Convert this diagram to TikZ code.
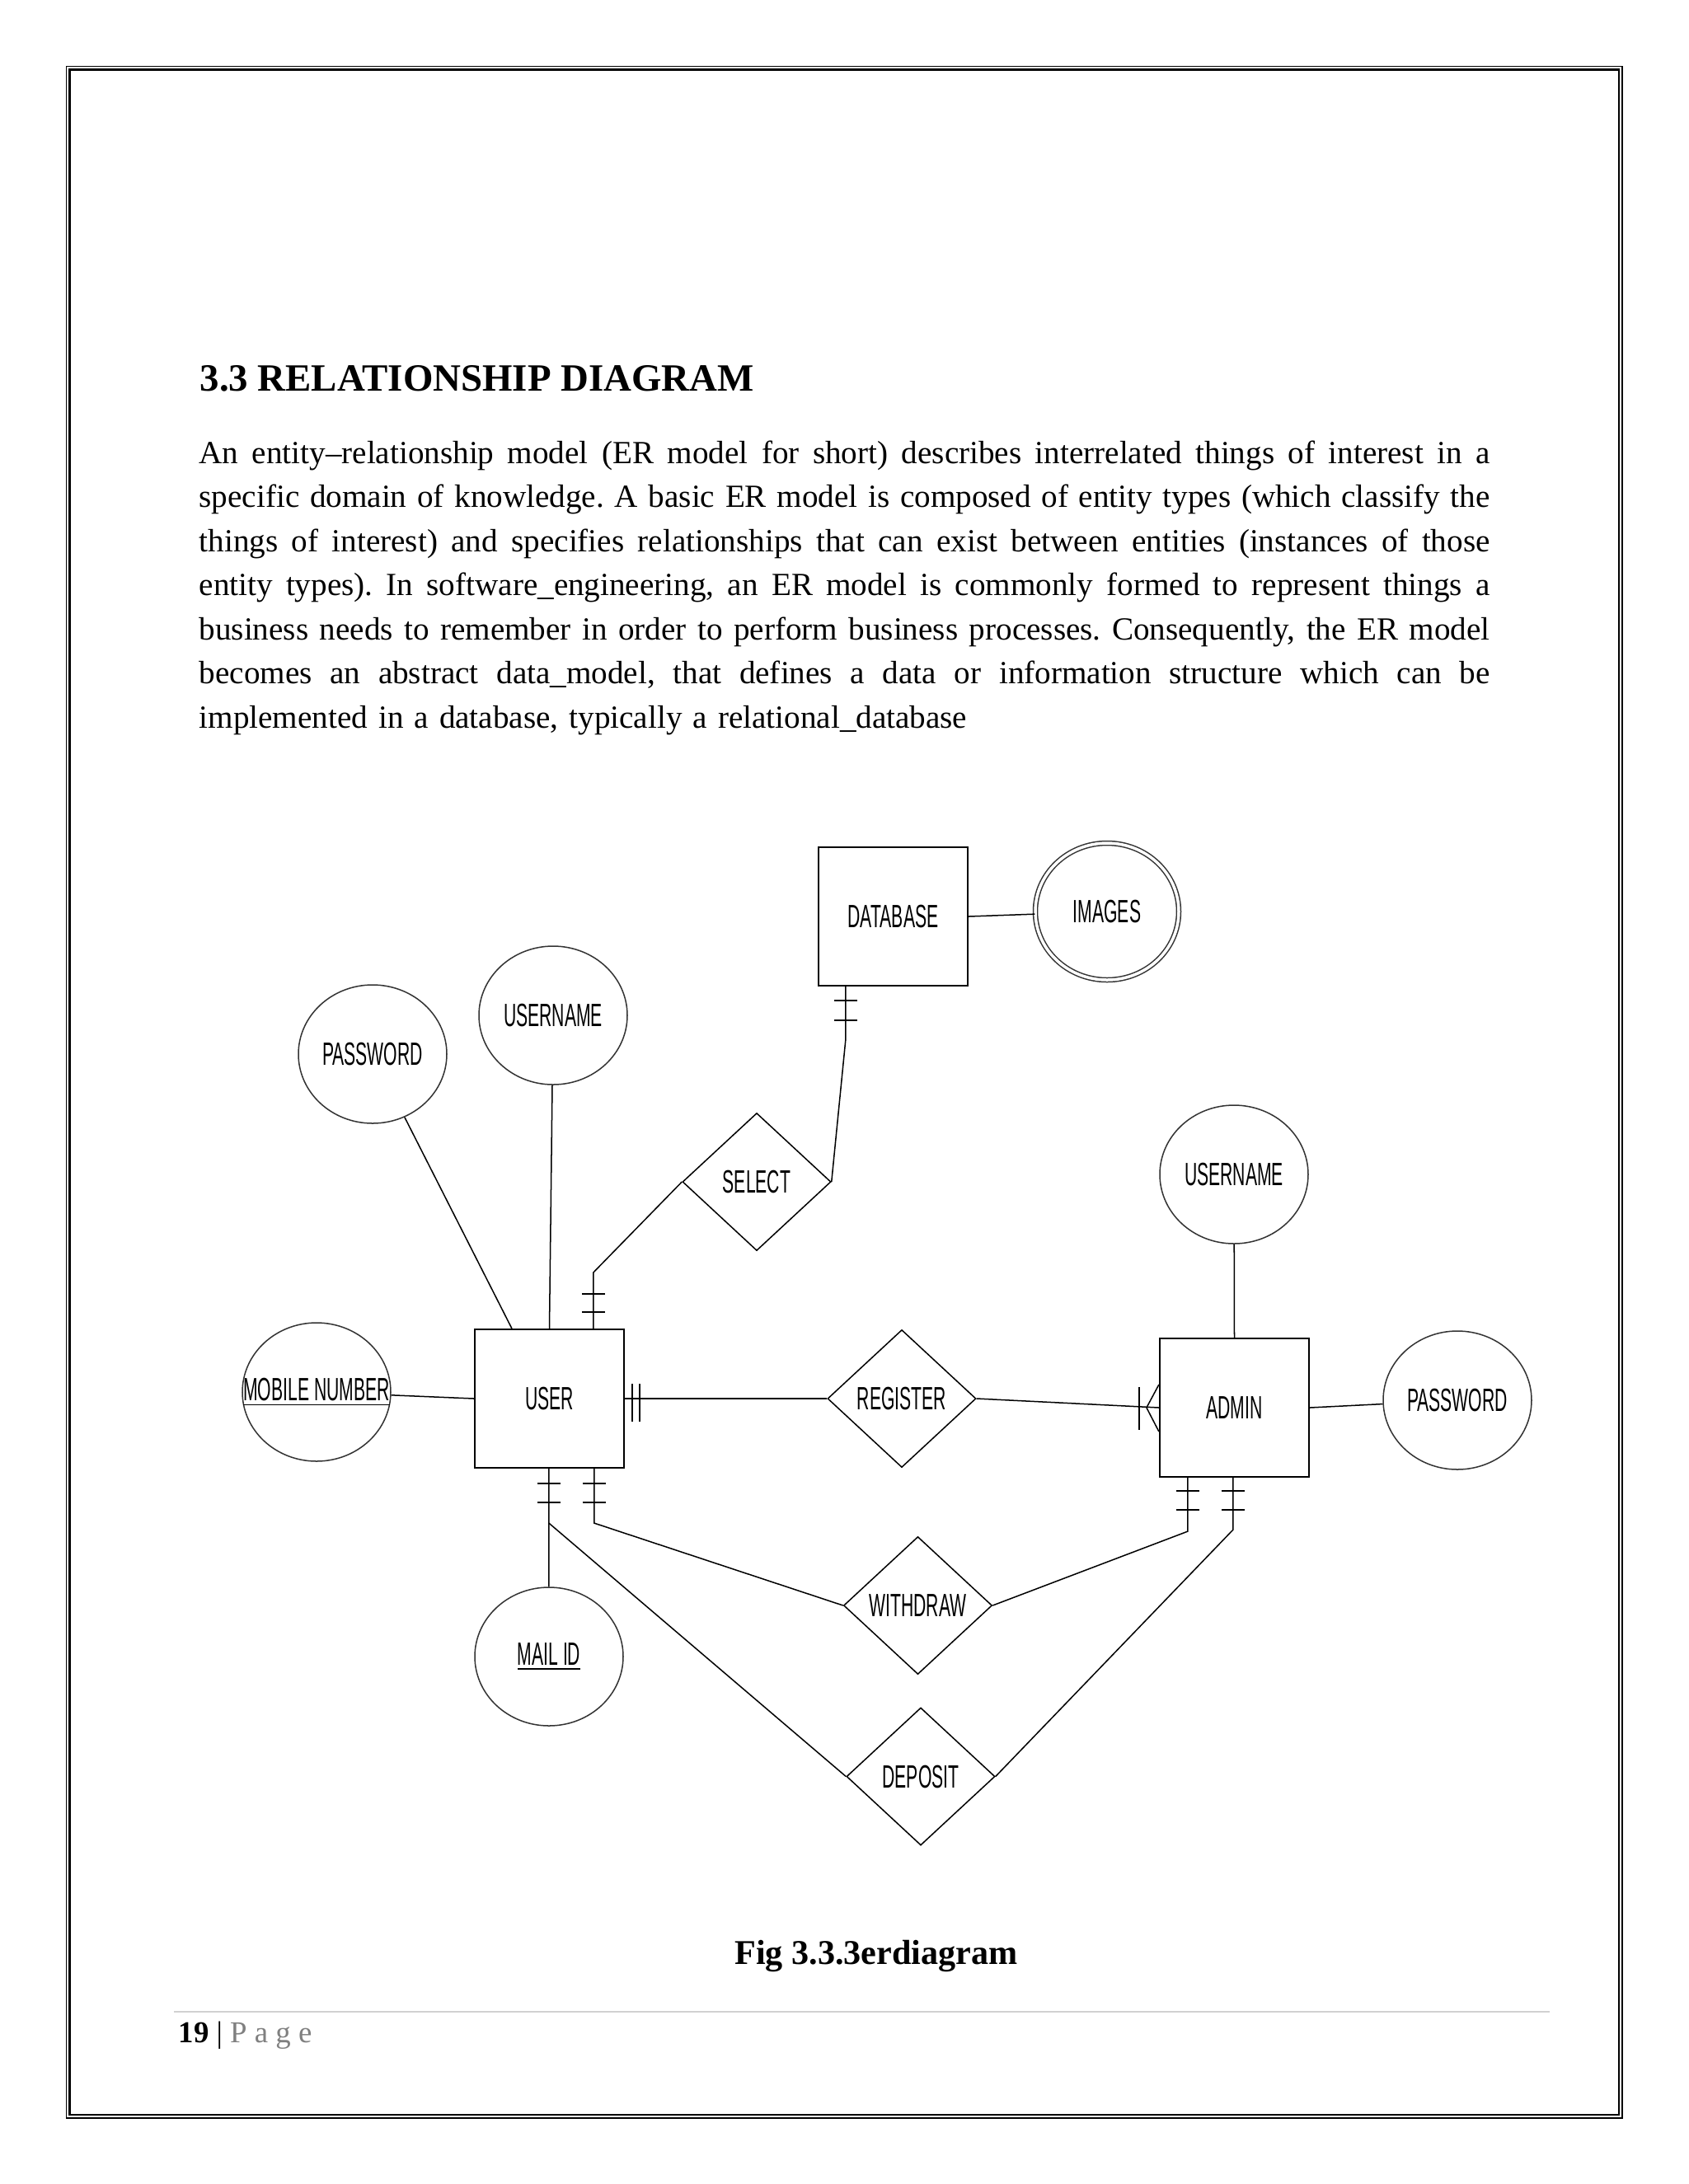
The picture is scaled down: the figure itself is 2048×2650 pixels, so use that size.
\documentclass[tikz,border=0pt]{standalone}
\usepackage{fontspec}
\setmainfont{Liberation Serif}
\newfontfamily\erfont[FakeStretch=0.54]{Liberation Sans}
\usetikzlibrary{shapes.geometric,calc}
\def\PX{0.29887pt}
\ExplSyntaxOn
\tl_new:N \l_erpara_line_tl
\NewDocumentCommand\paraline{m}
 {
  \tl_set:Nn \l_erpara_line_tl {#1}
  \tl_replace_all:Nnn \l_erpara_line_tl {~} {\hskip 0.25em plus 1fil minus 0.08em\relax}
  \mode_leave_vertical:
  \hbox_to_wd:nn {468pt} {\l_erpara_line_tl}
 }
\ExplSyntaxOff
\newcommand\parafont{\fontsize{11.7}{16}\selectfont}
\begin{document}
\begin{tikzpicture}[x=0.29887pt,y=-0.29887pt,
  erlab/.style={font=\erfont\fontsize{11.7}{14}\selectfont},
  entity/.style={erlab,draw,rectangle,line width=0.65pt,minimum width=181*\PX,minimum height=168*\PX,inner sep=0pt},
  attr/.style={erlab,draw=black!80,ellipse,line width=0.45pt,minimum width=180*\PX,minimum height=168*\PX,inner sep=0pt},
  rel/.style={erlab,draw,diamond,line width=0.45pt,minimum width=180*\PX,minimum height=167*\PX,inner sep=0pt},
  conn/.style={line width=0.45pt},
  tickline/.style={line width=0.6pt}
]
\fill[white] (0,0) rectangle (2048,2650);
\useasboundingbox (0,0) rectangle (2048,2650);
% page frame
\draw[line width=0.45pt] (80.5,80.5) rectangle (1968,2570);
\draw[line width=0.75pt] (84.5,84.5) rectangle (1964,2566);

% heading and paragraph
\node[anchor=base west,inner sep=0pt,font=\bfseries\fontsize{14}{16}\selectfont] (title) at (242,474) {3.3 RELATIONSHIP DIAGRAM};
\node[anchor=base west,inner sep=0pt,text width=468pt,align=left,font=\parafont] (para) at (241,562) {%
\paraline{An entity–relationship model (ER model for short) describes interrelated things of interest in a}\\
\paraline{specific domain of knowledge. A basic ER model is composed of entity types (which classify the}\\
\paraline{things of interest) and specifies relationships that can exist between entities (instances of those}\\
\paraline{entity types). In software\_engineering, an ER model is commonly formed to represent things a}\\
\paraline{business needs to remember in order to perform business processes. Consequently, the ER model}\\
\paraline{becomes an abstract data\_model, that defines a data or information structure which can be}\\
implemented in a database, typically a relational\_database};

% entities
\node[entity] (db) at (1083.5,1112) {DATABASE};
\node[entity] (user) at (666.5,1697) {USER};
\node[entity] (adm) at (1497.5,1708) {ADMIN};

% attributes
\node[attr,double,double distance=3.5*\PX,minimum width=174*\PX,minimum height=166*\PX] (img) at (1343,1106) {IMAGES};
\node[attr] (pw1) at (452,1279) {PASSWORD};
\node[attr] (un1) at (671,1232) {USERNAME};
\node[attr,label={center:\erfont\fontsize{11.7}{14}\selectfont\underline{MOBILE NUMBER}}] (mob) at (384,1689) {};
\node[attr] (mail) at (666,2010) {\underline{MAIL ID}};
\node[attr] (un2) at (1497,1425) {USERNAME};
\node[attr] (pw2) at (1768,1699) {PASSWORD};

% relationships
\node[rel] (sel) at (918,1434) {SELECT};
\node[rel] (reg) at (1094,1697) {REGISTER};
\node[rel] (wd) at (1113.5,1948) {WITHDRAW};
\node[rel] (dep) at (1117,2155.5) {DEPOSIT};

% attribute links
\draw[conn] (db.east) -- (img);
\coordinate (upw) at ($(user.north west)+(46,0)$);
\draw[conn] (pw1) -- (upw);
\draw[conn] (un1) -- (user.north);
\draw[conn] (mob) -- (user.west);
\draw[conn] (un2) -- (adm.north);
\draw[conn] (adm.east) -- (pw2);

% DATABASE -- SELECT
\coordinate (dbs) at ($(db.south west)+(34,0)$);
\coordinate (dbk) at ($(dbs)+(0,64)$);
\draw[conn] (dbs) -- (dbk) -- (sel.east);
\draw[tickline] ($(dbs)+(-14,17)$) -- ($(dbs)+(14,17)$);
\draw[tickline] ($(dbs)+(-14,41)$) -- ($(dbs)+(14,41)$);

% USER -- SELECT
\coordinate (us) at ($(user.north west)+(145,0)$);
\coordinate (usk) at ($(us)+(0,-68)$);
\draw[conn] (us) -- (usk) -- (sel.west);
\draw[tickline] ($(us)+(-14,-42)$) -- ($(us)+(14,-42)$);
\draw[tickline] ($(us)+(-14,-20)$) -- ($(us)+(14,-20)$);

% USER -- REGISTER -- ADMIN
\draw[conn] (user.east) -- (reg.west);
\draw[tickline] ($(user.east)+(9,-18)$) -- ($(user.east)+(9,28)$);
\draw[tickline] ($(user.east)+(18,-18)$) -- ($(user.east)+(18,28)$);
\draw[conn] (reg.east) -- (adm.west);
\draw[conn] ($(adm.west)+(-15,0)$) -- ($(adm.west)+(0,-28)$);
\draw[conn] ($(adm.west)+(-15,0)$) -- ($(adm.west)+(0,29)$);
\draw[tickline] ($(adm.west)+(-24,-25)$) -- ($(adm.west)+(-24,27)$);

% USER bottom links
\coordinate (ub1) at ($(user.south west)+(91,0)$);
\coordinate (ub1k) at ($(ub1)+(0,66)$);
\draw[conn] (ub1) -- (ub1k) -- (mail);
\draw[conn] (ub1k) -- (dep.west);
\draw[tickline] ($(ub1)+(-14,18)$) -- ($(ub1)+(14,18)$);
\draw[tickline] ($(ub1)+(-14,41)$) -- ($(ub1)+(14,41)$);
\coordinate (ub2) at ($(user.south west)+(146,0)$);
\coordinate (ub2k) at ($(ub2)+(0,66)$);
\draw[conn] (ub2) -- (ub2k) -- (wd.west);
\draw[tickline] ($(ub2)+(-14,18)$) -- ($(ub2)+(14,18)$);
\draw[tickline] ($(ub2)+(-14,41)$) -- ($(ub2)+(14,41)$);

% ADMIN bottom links
\coordinate (ab1) at ($(adm.south west)+(35,0)$);
\coordinate (ab1k) at ($(ab1)+(0,65)$);
\draw[conn] (ab1) -- (ab1k) -- (wd.east);
\draw[tickline] ($(ab1)+(-14,16)$) -- ($(ab1)+(14,16)$);
\draw[tickline] ($(ab1)+(-14,39)$) -- ($(ab1)+(14,39)$);
\coordinate (ab2) at ($(adm.south west)+(90,0)$);
\coordinate (ab2k) at ($(ab2)+(0,63)$);
\draw[conn] (ab2) -- (ab2k) -- (dep.east);
\draw[tickline] ($(ab2)+(-14,16)$) -- ($(ab2)+(14,16)$);
\draw[tickline] ($(ab2)+(-14,39)$) -- ($(ab2)+(14,39)$);

% caption and footer
\node[anchor=base,inner sep=0pt,font=\bfseries\fontsize{12.6}{15}\selectfont] (cap) at (1063,2383) {Fig 3.3.3erdiagram};
\draw[line width=0.6pt,black!18] (211,2441) -- (1880,2441);
\node[anchor=base west,inner sep=0pt,font=\fontsize{11}{13}\selectfont] (foot) at (216,2478) {\textbf{19} | \textcolor{gray}{P a g e}};
\end{tikzpicture}
\end{document}
